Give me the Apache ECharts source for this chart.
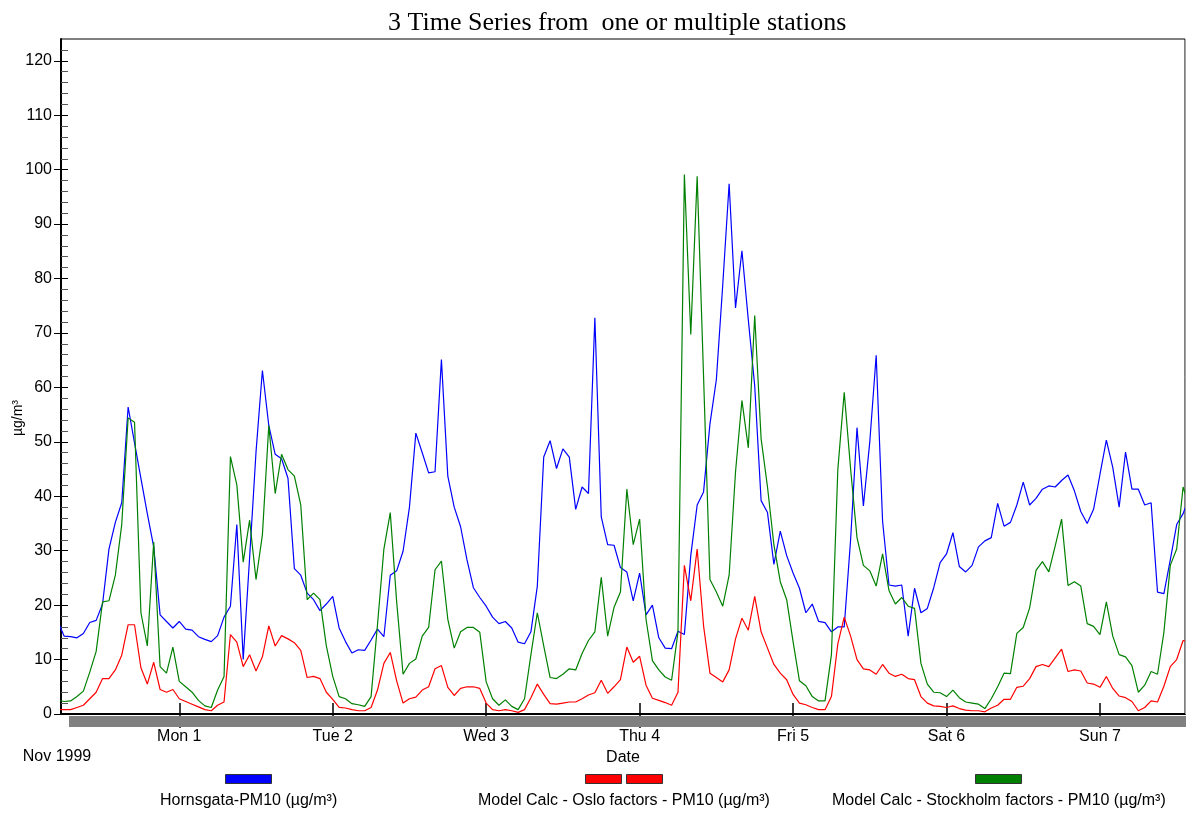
<!DOCTYPE html>
<html><head><meta charset="utf-8">
<script src="https://cdn.jsdelivr.net/npm/echarts@6/dist/echarts.min.js"></script>
<style>html,body{margin:0;padding:0;background:#fff}#c{width:1186px;height:814px}</style>
</head><body><div id="c"></div>
<script>
// Hourly values; first value is at hour -19 relative to Mon 1 Nov 1999 00:00
const firstHour = -19;
const hornsgata = [
17.0,14.3,14.2,14.0,14.8,16.8,17.2,20.2,30.3,35.2,
38.8,56.4,49.8,43.3,36.8,30.7,18.2,17.0,15.8,17.0,
15.6,15.4,14.2,13.7,13.3,14.4,17.8,19.8,34.8,10.0,
28.7,48.1,63.1,53.0,47.7,46.9,43.3,26.7,25.5,22.2,
21.0,19.0,20.2,21.6,15.8,13.3,11.2,11.8,11.7,13.6,
15.6,14.2,25.5,26.3,29.9,38.0,51.6,48.0,44.3,44.5,
65.1,43.7,38.0,34.4,28.3,23.2,21.4,19.8,17.8,16.6,
17.0,15.8,13.2,12.9,15.1,23.5,47.2,50.2,45.1,48.7,
47.2,37.6,41.7,40.5,72.8,36.2,31.1,31.0,26.9,26.1,
20.8,25.9,18.2,20.0,14.0,12.1,12.0,15.2,14.6,29.1,
38.4,40.8,53.3,61.4,78.8,97.4,74.6,85.1,72.4,60.3,
39.2,37.0,27.5,33.6,29.1,25.9,23.1,18.6,20.2,17.0,
16.8,15.1,16.0,16.0,32.0,52.6,38.2,50.0,65.9,35.4,
23.7,23.5,23.7,14.3,23.1,18.6,19.4,23.2,27.8,29.4,
33.3,27.1,26.1,27.3,30.7,31.8,32.4,38.7,34.5,35.2,
38.4,42.6,38.4,39.6,41.3,41.9,41.7,42.9,43.9,41.0,
37.2,35.0,37.6,44.0,50.3,45.3,38.0,48.1,41.3,41.3,
38.4,38.8,22.4,22.1,28.3,34.8,36.8,40.0
];
const osloModel = [
0.8,0.8,0.8,1.2,1.6,2.8,4.0,6.5,6.5,8.1,
10.8,16.4,16.4,8.5,5.5,9.5,4.5,4.0,4.5,2.8,
2.3,1.8,1.3,0.8,0.6,1.6,2.2,14.6,13.2,8.7,
10.9,7.9,10.5,16.2,12.5,14.4,13.8,13.1,11.7,6.7,
6.9,6.5,4.0,2.7,1.2,1.1,0.8,0.6,0.6,1.2,
4.4,9.3,11.3,6.1,2.0,2.8,3.1,4.4,5.0,8.3,
8.9,4.9,3.4,4.7,5.0,5.0,4.7,2.0,0.8,0.6,
0.8,0.6,0.3,0.8,3.0,5.5,3.6,1.9,1.8,2.0,
2.2,2.2,2.8,3.5,3.9,6.2,3.8,5.0,6.3,12.3,
9.5,10.6,5.3,2.9,2.5,2.1,1.6,4.0,27.3,20.8,
30.3,16.2,7.5,6.7,5.9,8.1,13.8,17.6,15.4,21.6,
15.1,12.1,9.1,7.5,6.3,3.6,2.0,1.7,1.2,0.8,
0.8,3.2,12.9,17.8,14.3,10.0,8.3,8.1,7.3,9.1,
7.5,6.9,7.3,6.5,6.3,3.2,2.0,1.5,1.4,1.2,
1.5,1.0,0.7,0.6,0.6,0.4,1.1,1.6,2.7,2.7,
4.9,5.1,6.5,8.7,9.1,8.7,10.3,11.9,7.8,8.1,
7.9,5.7,5.5,4.9,6.9,4.7,3.3,3.0,2.3,0.6,
1.2,2.4,2.2,5.1,8.7,10.0,13.5,13.2
];
const stockholmModel = [
2.5,2.3,2.4,3.2,4.2,7.7,11.5,20.6,20.8,25.5,
34.8,54.4,53.6,18.6,12.5,31.6,8.7,7.5,12.3,6.0,
5.0,4.0,2.5,1.5,1.2,4.4,6.9,47.3,42.1,27.9,
35.6,24.7,32.9,53.0,40.5,47.7,44.9,43.7,38.4,21.0,
22.2,21.0,12.5,6.9,3.2,2.8,1.9,1.7,1.4,3.2,
16.4,30.3,37.0,20.6,7.3,9.3,10.1,14.3,15.9,26.5,
28.1,17.4,12.1,15.1,15.9,15.9,15.0,5.9,2.8,1.6,
2.6,1.4,0.8,2.8,10.9,18.6,12.5,6.7,6.5,7.3,
8.3,8.1,11.1,13.5,15.1,25.1,14.3,19.6,22.4,41.3,
31.1,35.8,17.4,9.8,8.1,6.8,6.2,15.1,99.1,69.7,
98.8,62.0,24.7,22.4,19.8,25.5,44.5,57.6,48.9,73.2,
50.6,41.7,31.1,24.3,21.0,13.3,6.1,5.2,3.2,2.4,
2.4,10.9,44.9,59.1,45.0,32.4,27.3,26.3,23.5,29.4,
22.7,20.2,21.4,19.8,19.4,9.3,5.5,4.0,3.9,3.2,
4.4,3.0,2.2,2.0,1.8,1.0,2.8,5.0,7.5,7.4,
14.8,15.9,19.5,26.4,28.0,26.1,30.9,35.8,23.6,24.3,
23.5,16.6,16.1,14.6,20.6,14.3,10.9,10.5,8.9,4.0,
5.3,7.8,7.3,15.0,27.3,30.3,41.7,38.0
];
const dayTickHours = [0, 24, 48, 72, 96, 120, 144];
const dayLabels = ['Mon 1', 'Tue 2', 'Wed 3', 'Thu 4', 'Fri 5', 'Sat 6', 'Sun 7'];
const yMajorTicks = [0, 10, 20, 30, 40, 50, 60, 70, 80, 90, 100, 110, 120];
const yMinorTicks = [2,4,6,8,12,14,16,18,22,24,26,28,32,34,36,38,42,44,46,48,52,54,56,58,62,64,66,68,72,74,76,78,82,84,86,88,92,94,96,98,102,104,106,108,112,114,116,118,122];
const seriesNames = ['Hornsgata-PM10 (µg/m³)', 'Model Calc - Oslo factors - PM10 (µg/m³)', 'Model Calc - Stockholm factors - PM10 (µg/m³)'];
const seriesColors = ['#0000ff', '#ff0000', '#008000'];
const titleText = '3 Time Series from  one or multiple stations';

const FONT = "'Liberation Sans', Arial, sans-serif";
const toPairs = arr => arr.map((v, i) => [firstHour + i, v]);
const allSeries = [hornsgata, osloModel, stockholmModel];

const X_MIN = -18.5, X_MAX = 157.3;
const chart = echarts.init(document.getElementById('c'), null, {renderer: 'canvas'});
const xBase = {type: 'value', min: X_MIN, max: X_MAX, gridIndex: 0, position: 'bottom', splitLine: {show: false}};
const yBase = {type: 'value', min: 0, max: 124, interval: 10, position: 'left', splitLine: {show: false}};

chart.setOption({
  animation: false,
  backgroundColor: '#ffffff',
  title: {
    text: titleText, left: 383, top: 5,
    textStyle: {fontFamily: "'Liberation Serif', 'Times New Roman', serif", fontSize: 26, fontWeight: 'normal', color: '#000'}
  },
  grid: {left: 61, right: 1, top: 39, bottom: 100, show: true, borderColor: '#000', borderWidth: 1, backgroundColor: 'transparent'},
  xAxis: [
    Object.assign({}, xBase, {
      name: 'Date', nameLocation: 'middle', nameGap: 33,
      nameTextStyle: {fontFamily: FONT, fontSize: 16, color: '#000'},
      axisLine: {show: true, onZero: false, lineStyle: {color: '#000', width: 2}},
      axisTick: {show: true, inside: true, length: 11, customValues: dayTickHours, lineStyle: {color: '#000', width: 1.5}},
      axisLabel: {show: true, margin: 15, customValues: dayTickHours, fontFamily: FONT, fontSize: 16, color: '#000',
        formatter: v => dayLabels[dayTickHours.indexOf(Math.round(v))] || ''}
    }),
    Object.assign({}, xBase, {
      axisLine: {show: false, onZero: false},
      axisTick: {show: true, inside: false, length: 14, customValues: dayTickHours, lineStyle: {color: '#000', width: 1.5}},
      axisLabel: {show: false}
    })
  ],
  yAxis: [
    Object.assign({}, yBase, {
      axisLine: {show: true, onZero: false, lineStyle: {color: '#000', width: 2}},
      axisTick: {show: true, inside: false, length: 7, customValues: yMajorTicks, lineStyle: {color: '#000', width: 1}},
      axisLabel: {show: true, margin: 9, customValues: yMajorTicks, fontFamily: FONT, fontSize: 16, color: '#000'}
    }),
    Object.assign({}, yBase, {
      axisLine: {show: false, onZero: false},
      axisTick: {show: true, inside: true, length: 7, customValues: yMajorTicks, lineStyle: {color: '#000', width: 1}},
      axisLabel: {show: false}
    }),
    Object.assign({}, yBase, {
      axisLine: {show: false, onZero: false},
      axisTick: {show: true, inside: true, length: 7, customValues: yMinorTicks, lineStyle: {color: '#555', width: 1}},
      axisLabel: {show: false}
    })
  ],
  legend: [
    {data: [seriesNames[0]], left: 225, top: 774, icon: 'rect', itemWidth: 46, itemHeight: 9, formatter: () => '', selectedMode: false,
      itemStyle: {borderColor: '#333', borderWidth: 1}, padding: 0},
    {data: [seriesNames[1]], left: 585, top: 774, icon: 'path://M0,0H36V9H0ZM41,0H77V9H41Z', itemWidth: 77, itemHeight: 9, formatter: () => '', selectedMode: false,
      itemStyle: {borderColor: '#333', borderWidth: 1}, padding: 0},
    {data: [seriesNames[2]], left: 975, top: 774, icon: 'rect', itemWidth: 46, itemHeight: 9, formatter: () => '', selectedMode: false,
      itemStyle: {borderColor: '#333', borderWidth: 1}, padding: 0},
    {data: [seriesNames[0]], left: 155, top: 793, icon: 'rect', itemWidth: 0, itemHeight: 0, selectedMode: false, padding: 0,
      textStyle: {fontFamily: FONT, fontSize: 16, color: '#000'}},
    {data: [seriesNames[1]], left: 473, top: 793, icon: 'rect', itemWidth: 0, itemHeight: 0, selectedMode: false, padding: 0,
      textStyle: {fontFamily: FONT, fontSize: 16, color: '#000'}},
    {data: [seriesNames[2]], left: 827, top: 793, icon: 'rect', itemWidth: 0, itemHeight: 0, selectedMode: false, padding: 0,
      textStyle: {fontFamily: FONT, fontSize: 16, color: '#000'}}
  ],
  graphic: [
    {type: 'rect', shape: {x: 69, y: 716, width: 1117, height: 11}, style: {fill: '#808080'}, z: 1},
    {type: 'line', shape: {x1: 1185.5, y1: 39, x2: 1185.5, y2: 714}, style: {stroke: '#a0a0a0', lineWidth: 1}, z: 10},
    {type: 'text', x: 57, y: 757, style: {text: 'Nov 1999', font: "16px " + FONT, fill: '#000', textAlign: 'center', textVerticalAlign: 'middle'}},
    {type: 'text', x: 18, y: 418, rotation: Math.PI / 2, style: {text: 'µg/m³', font: "14px " + FONT, fill: '#000', textAlign: 'center', textVerticalAlign: 'middle'}}
  ],
  series: allSeries.map((arr, i) => ({
    name: seriesNames[i], type: 'line', xAxisIndex: 0, yAxisIndex: 0,
    data: toPairs(arr), showSymbol: false, symbol: 'none', clip: true,
    lineStyle: {color: seriesColors[i], width: 1.2}, itemStyle: {color: seriesColors[i]},
    emphasis: {disabled: true}
  }))
});
</script></body></html>
